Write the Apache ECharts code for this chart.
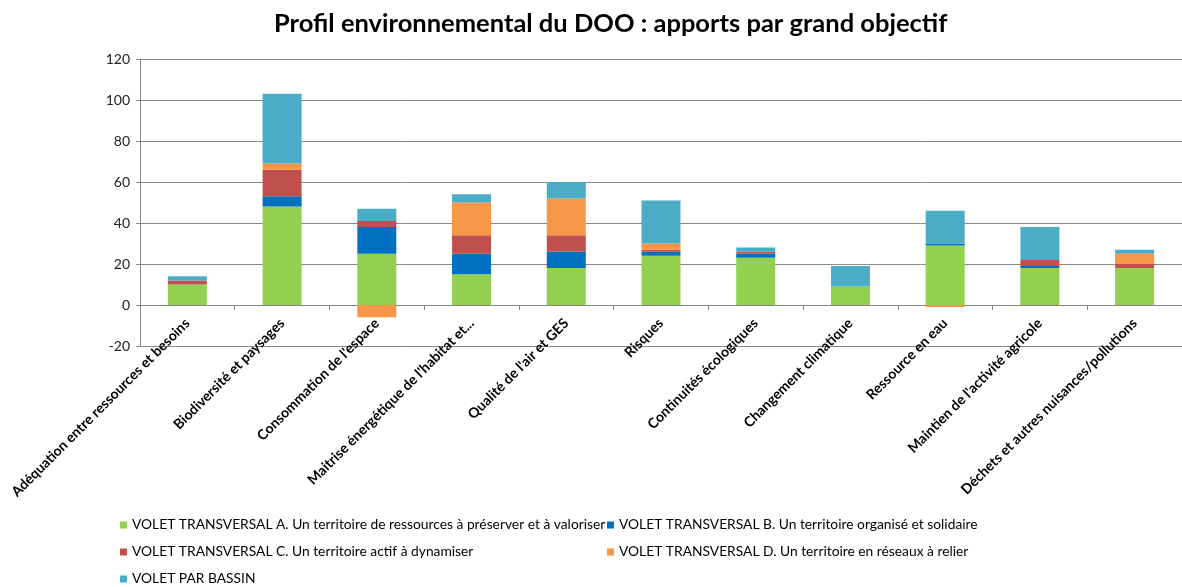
<!DOCTYPE html>
<html>
<head>
<meta charset="utf-8">
<script src="https://cdn.jsdelivr.net/npm/echarts@6/dist/echarts.min.js"></script>
<style>
  html, body { margin: 0; padding: 0; background: #fff; }
  #chart { width: 1182px; height: 587px; }
</style>
</head>
<body>
<div id="chart"></div>
<script>
  // grands objectifs
  var categories = [
    'Adéquation entre ressources et besoins',
    'Biodiversité et paysages',
    "Consommation de l'espace",
    "Maitrise énergétique de l'habitat et...",
    "Qualité de l'air et GES",
    'Risques',
    'Continuités écologiques',
    'Changement climatique',
    'Ressource en eau',
    "Maintien de l'activité agricole",
    'Déchets et autres nuisances/pollutions'
  ];

  var voletA = [10, 48, 25, 15, 18, 24, 23, 9, 29, 18, 18];
  var voletB = [0, 5, 13, 10, 8, 2, 2, 0, 1, 1, 0];
  var voletC = [2, 13, 3, 9, 8, 1, 1, 0, 0, 3, 2];
  var voletD = [0, 3, -6, 16, 18, 3, 0, 0, -1, 0, 5];
  var voletBassin = [2, 34, 6, 4, 8, 21, 2, 10, 16, 16, 2];

  var names = [
    'VOLET TRANSVERSAL A. Un territoire de ressources à préserver et à valoriser',
    'VOLET TRANSVERSAL B. Un territoire organisé et solidaire',
    'VOLET TRANSVERSAL C. Un territoire actif à dynamiser',
    'VOLET TRANSVERSAL D. Un territoire en réseaux à relier',
    'VOLET PAR BASSIN'
  ];
  var colors = ['#92D050', '#0070C0', '#C0504D', '#F79646', '#4BACC6'];
  var values = [voletA, voletB, voletC, voletD, voletBassin];

  var font = 'Lato, "Open Sans", sans-serif';

  // une légende par élément, pour placer les deux colonnes
  var legendPos = [[120, 518], [607, 518], [120, 545], [607, 545], [120, 572]];
  var legends = names.map(function (n, i) {
    return {
      data: [n],
      left: legendPos[i][0],
      top: legendPos[i][1],
      padding: 0,
      icon: 'rect',
      itemWidth: 7,
      itemHeight: 7,
      selectedMode: false,
      textStyle: { fontFamily: font, fontSize: 13.8, color: '#000' }
    };
  });

  var series = names.map(function (n, i) {
    return {
      name: n,
      type: 'bar',
      stack: 'total',
      barWidth: 39,
      itemStyle: { color: colors[i] },
      data: values[i]
    };
  });

  var chart = echarts.init(document.getElementById('chart'));
  chart.setOption({
    animation: false,
    color: colors,
    title: {
      text: 'Profil environnemental du DOO : apports par grand objectif',
      left: 269,
      top: 6,
      textStyle: { fontFamily: font, fontSize: 25.5, fontWeight: 'bold', color: '#000' }
    },
    legend: legends,
    grid: { left: 140, top: 59, width: 1053, height: 287, containLabel: false },
    xAxis: {
      type: 'category',
      data: categories,
      axisLine: { onZero: true, lineStyle: { color: '#868686', width: 1 } },
      axisTick: { show: true, length: 5, lineStyle: { color: '#868686' } },
      axisLabel: {
        rotate: 45,
        interval: 0,
        margin: -25,
        fontFamily: font,
        fontSize: 14,
        fontWeight: 'bold',
        color: '#000'
      }
    },
    yAxis: {
      type: 'value',
      min: -20,
      max: 120,
      interval: 20,
      axisLine: { show: true, lineStyle: { color: '#868686' } },
      axisTick: { show: true, length: 4, lineStyle: { color: '#868686' } },
      axisLabel: { margin: 10, fontFamily: font, fontSize: 14, color: '#222' },
      splitLine: { show: true, lineStyle: { color: '#888', width: 1 } }
    },
    series: series
  });
</script>
</body>
</html>
